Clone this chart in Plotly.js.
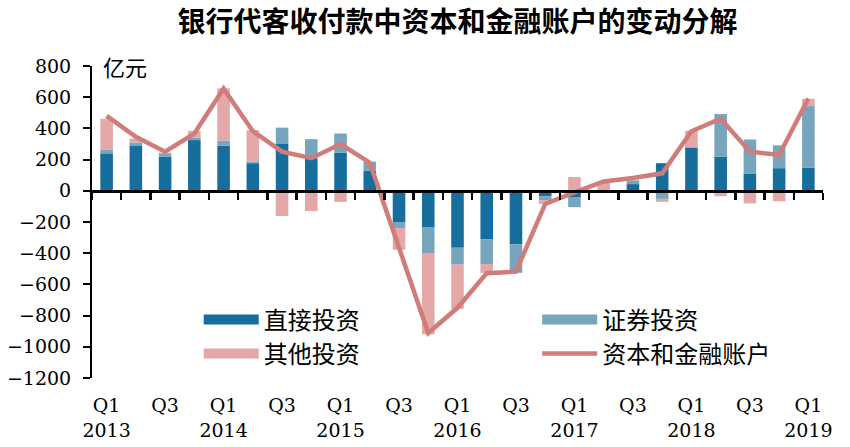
<!DOCTYPE html>
<html>
<head>
<meta charset="utf-8">
<script src="https://cdn.plot.ly/plotly-3.0.1.min.js"></script>
<style>html,body{margin:0;padding:0;background:#fff;}#chart{width:850px;height:447px;}</style>
</head>
<body>
<div id="chart"></div>
<script>
// Quarters 2013Q1 .. 2019Q1
const quarters = ["2013Q1","2013Q2","2013Q3","2013Q4","2014Q1","2014Q2","2014Q3","2014Q4",
  "2015Q1","2015Q2","2015Q3","2015Q4","2016Q1","2016Q2","2016Q3","2016Q4",
  "2017Q1","2017Q2","2017Q3","2017Q4","2018Q1","2018Q2","2018Q3","2018Q4","2019Q1"];
// 亿元
const directInv = [240, 287, 219, 325, 289, 177, 304, 208, 244, 128, -200, -232, -365, -312, -344, -35, -40, 5, 43, 177, 278, 219, 111, 145, 149];
const portfolioInv = [25, 23, 21, 17, 32, 10, 101, 123, 123, 59, -38, -171, -108, -157, -182, -25, -65, 0, 24, -52, -10, 273, 218, 146, 394];
const otherInv = [197, 25, 5, 42, 336, 202, -162, -130, -71, 0, -140, -516, -284, -57, 0, -24, 88, 50, 0, -19, 108, -35, -81, -67, 46];
const capFinAccount = [480, 346, 251, 367, 655, 382, 251, 209, 300, 180, -365, -912, -750, -528, -518, -84, -10, 60, 82, 112, 382, 462, 251, 230, 592];

const tickVals = ["2013Q1","2013Q3","2014Q1","2014Q3","2015Q1","2015Q3","2016Q1","2016Q3","2017Q1","2017Q3","2018Q1","2018Q3","2019Q1"];
const tickText = ["Q1<br>2013","Q3","Q1<br>2014","Q3","Q1<br>2015","Q3","Q1<br>2016","Q3","Q1<br>2017","Q3","Q1<br>2018","Q3","Q1<br>2019"];

const names = ["直接投资","证券投资","其他投资","资本和金融账户"];
const colors = ["#156e9b","#76a5bd","#e3a8a7","#d07c78"];

const cjk = '"Noto Sans CJK SC", "Noto Sans CJK JP", sans-serif';
const serif = '"DejaVu Serif", "Liberation Serif", serif';

const legendIds = ['legend', 'legend2', 'legend3', 'legend4'];

const barSeries = [directInv, portfolioInv, otherInv];
const traces = barSeries.map((vals, i) => ({
  type: 'bar', x: quarters, y: vals, name: names[i],
  marker: {color: colors[i], line: {width: 0}},
  showlegend: false, hoverinfo: 'x+y'
}));
traces.push({
  type: 'scatter', mode: 'lines', x: quarters, y: capFinAccount, name: names[3],
  xaxis: 'x2', line: {color: colors[3], width: 4.5},
  showlegend: true, legend: legendIds[3]
});
// legend proxies for bars (wide rectangle symbols)
[0,1,2].forEach(i => {
  traces.push({
    type: 'scatter', mode: 'lines', x: [null], y: [null], name: names[i],
    xaxis: 'x2', line: {color: colors[i], width: 14},
    showlegend: true, legend: legendIds[i], hoverinfo: 'skip'
  });
});

function mkLegend(x, y) {
  return {
    orientation: 'h', xanchor: 'left', yanchor: 'middle', x: x, y: y,
    itemwidth: 55,
    font: {family: cjk, size: 24, color: '#000'},
    bgcolor: 'rgba(0,0,0,0)', borderwidth: 0
  };
}

const layout = {
  width: 850, height: 447,
  margin: {l: 92, r: 27, t: 66, b: 69},
  paper_bgcolor: '#fff', plot_bgcolor: '#fff',
  barmode: 'relative', bargap: 0.57,
  title: {text: '<b>银行代客收付款中资本和金融账户的变动分解</b>', x: 0.5, xref: 'paper',
          y: 0.95, yref: 'container', yanchor: 'middle',
          font: {family: cjk, size: 28, color: '#000'}},
  xaxis: {
    type: 'category', categoryorder: 'array', categoryarray: quarters,
    range: [-0.5, quarters.length - 0.5],
    showline: false, ticks: '', showgrid: false, zeroline: false,
    tickmode: 'array', tickvals: tickVals, ticktext: tickText,
    tickfont: {family: serif, size: 19, color: '#000'}, ticklabelstandoff: 14
  },
  xaxis2: {
    type: 'category', categoryorder: 'array', categoryarray: quarters,
    matches: 'x', overlaying: 'x', anchor: 'free', position: 0.6,
    showline: true, linecolor: '#000', linewidth: 3,
    ticks: 'outside', ticklen: 7, tickwidth: 2.5, tickcolor: '#000',
    tickson: 'boundaries', showticklabels: false, showgrid: false, zeroline: false
  },
  yaxis: {
    range: [-1200, 800], dtick: 200, tick0: 0,
    showline: true, linecolor: '#000', linewidth: 2,
    ticks: 'outside', ticklen: 7, tickwidth: 2, tickcolor: '#000',
    showgrid: false, zeroline: false,
    tickfont: {family: serif, size: 19, color: '#000'}, ticklabelstandoff: 8
  },
  legend: mkLegend(0.146, 0.186),
  legend2: mkLegend(0.609, 0.186),
  legend3: mkLegend(0.146, 0.077),
  legend4: mkLegend(0.609, 0.077),
  annotations: [{
    text: '亿元', xref: 'paper', yref: 'paper', x: 0.012, y: 1.0,
    xanchor: 'left', yanchor: 'middle', showarrow: false,
    font: {family: cjk, size: 22, color: '#000'}
  }]
};

Plotly.newPlot('chart', traces, layout, {staticPlot: true, displayModeBar: false});
</script>
</body>
</html>
